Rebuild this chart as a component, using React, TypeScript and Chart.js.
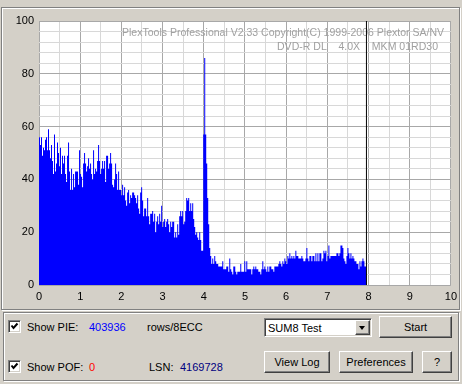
import React, { useEffect, useRef } from 'react';
import { Chart, registerables } from 'chart.js';

Chart.register(...registerables);

// ---- data (PIE rows/8ECC per sample) ----
const pieValues: number[] = [
  56, 53, 56, 49, 52, 51, 55, 56, 51, 59,
  51, 48, 53, 47, 42, 57, 43, 46, 54, 50,
  45, 52, 42, 49, 46, 49, 42, 39, 49, 54,
  43, 36, 44, 36, 42, 37, 43, 43, 43, 38,
  51, 42, 41, 37, 46, 50, 46, 43, 45, 48,
  44, 46, 42, 40, 51, 42, 44, 43, 47, 53,
  47, 42, 44, 47, 44, 47, 39, 49,
  49, 44, 46, 50, 46, 38, 37, 40, 46, 42,
  36, 43, 36, 36, 34, 38, 34, 37, 32, 30,
  35, 36, 31, 34, 33, 35, 35, 34, 33, 31,
  34, 29, 27, 35, 37, 32, 26, 29, 29, 26,
  33, 26, 23, 27, 27, 28, 24, 27, 20, 24,
  26, 23, 27, 24, 30, 22, 24, 25, 22, 24,
  25, 23, 20, 24, 22, 24, 24, 18, 20,
  18, 23, 19, 26, 28, 26, 28, 23, 24, 28,
  33, 32, 33, 28, 31, 28, 31, 25, 22, 19,
  20, 18, 17, 20, 17, 13, 13, 57, 86, 57,
  46, 33, 23, 14, 11, 8, 10, 8, 11, 9,
  8, 8, 7, 7, 7, 7, 9, 6, 6, 6,
  7, 7, 5, 10, 6, 5, 4, 7, 7, 5,
  4, 5, 5, 5, 8, 5, 5, 5, 9, 5,
  9, 6, 6, 6, 6, 4, 6, 7, 6, 7,
  6, 6, 5, 5, 4, 6, 9, 6, 7, 6,
  5, 7, 5, 7, 7, 6, 6, 5, 7, 7,
  7, 7, 8, 9, 8, 7, 9, 8, 10, 9,
  8, 11, 10, 12, 10, 11, 10, 11, 10, 13,
  11, 11, 10, 10, 10, 11, 10, 9, 9, 10,
  14, 10, 9, 11, 11, 9, 11, 11, 9, 12,
  9, 12, 9, 12, 12, 9, 10, 13, 12, 13,
  9, 11, 15, 10, 11, 11, 11, 11, 11, 11,
  12, 12, 11, 12, 15, 15, 14, 10, 9, 8,
  11, 14, 12, 10, 12, 10, 11, 10, 9, 9,
  8, 8, 6, 9, 7, 9, 10, 9, 7, 7,
];

const scanEndGB = 7.95; // position of the current-position marker / end of data
const xMin = 0;
const xMax = 10;
const yMin = 0;
const yMax = 100;
const xLabelStep = 1;
const xGridStep = 0.5;
const yLabelStep = 20;
const yGridStep = 4;

const infoLine1 = 'PlexTools Professional V2.33 Copyright(C) 1999-2006 Plextor SA/NV';
const infoLine2 = 'DVD-R DL    4.0X    MKM 01RD30';

const pieTotal = '403936';
const pieUnit = 'rows/8ECC';
const pofTotal = '0';
const lsnValue = '4169728';
const testModes = ['SUM8 Test'];

const BG = '#d4d0c8';
const FONT = '"Liberation Sans", Arial, sans-serif';

const infoPlugin = {
  id: 'plotInfo',
  beforeDraw(chart: any) {
    const { ctx, chartArea } = chart;
    ctx.save();
    ctx.fillStyle = '#ffffff';
    ctx.fillRect(chartArea.left, chartArea.top, chartArea.right - chartArea.left, chartArea.bottom - chartArea.top);
    ctx.restore();
  },
  beforeDatasetsDraw(chart: any) {
    const { ctx } = chart;
    ctx.save();
    ctx.fillStyle = '#a0a0a0';
    ctx.font = '11.5px ' + FONT;
    ctx.textAlign = 'right';
    ctx.textBaseline = 'alphabetic';
    ctx.fillText(infoLine1, 444, 36, 322);
    ctx.fillText(infoLine2, 438, 50, 161);
    ctx.restore();
  },
};

function PlotCanvas() {
  const ref = useRef<HTMLCanvasElement | null>(null);
  useEffect(() => {
    if (!ref.current) return;
    const step = scanEndGB / pieValues.length;
    const piePoints = pieValues.map((v, i) => ({ x: i * step, y: v }));
    piePoints.push({ x: scanEndGB, y: pieValues[pieValues.length - 1] });
    const chart = new Chart(ref.current, {
      type: 'line',
      data: {
        datasets: [
          {
            label: 'position',
            data: [
              { x: scanEndGB, y: yMin },
              { x: scanEndGB, y: yMax },
            ],
            borderColor: '#000000',
            borderWidth: 1,
            pointRadius: 0,
            fill: false,
            order: 0,
          },
          {
            label: 'PIE',
            data: piePoints,
            stepped: 'before',
            fill: 'origin',
            backgroundColor: '#0000ff',
            borderColor: 'rgba(0,0,0,0)',
            borderWidth: 0,
            pointRadius: 0,
            tension: 0,
            order: 1,
          },
        ],
      },
      options: {
        animation: false,
        responsive: false,
        devicePixelRatio: 1,
        events: [],
        layout: { padding: { left: 0, top: 21, right: 11, bottom: 0 } },
        plugins: { legend: { display: false }, tooltip: { enabled: false } },
        scales: {
          x: {
            type: 'linear',
            min: xMin,
            max: xMax,
            border: { display: false },
            grid: {
              drawTicks: false,
              color: (c: any) => (c.tick && Math.abs(c.tick.value % xLabelStep) < 1e-6 ? '#a8a8a8' : '#d8d8d8'),
            },
            ticks: {
              stepSize: xGridStep,
              autoSkip: false,
              maxRotation: 0,
              padding: 5,
              color: '#000000',
              font: { family: FONT, size: 11 },
              callback: (v: any) => (Math.abs(v % xLabelStep) < 1e-6 ? String(v) : ''),
            },
            afterFit: (s: any) => {
              s.height = 20;
            },
          },
          y: {
            type: 'linear',
            min: yMin,
            max: yMax,
            border: { display: false },
            grid: {
              drawTicks: false,
              color: (c: any) => (c.tick && c.tick.value % yLabelStep === 0 ? '#a8a8a8' : '#d8d8d8'),
            },
            ticks: {
              stepSize: yGridStep,
              autoSkip: false,
              padding: 5,
              color: '#000000',
              font: { family: FONT, size: 11 },
              callback: (v: any) => (v % yLabelStep === 0 ? String(v) : ''),
            },
            afterFit: (s: any) => {
              s.width = 39;
            },
          },
        },
      },
      plugins: [infoPlugin],
    } as any);
    return () => chart.destroy();
  }, []);
  return (
    <canvas
      ref={ref}
      width={462}
      height={305}
      style={{ position: 'absolute', left: 0, top: 0, width: 462, height: 305 }}
    />
  );
}

const etched = (left: number, top: number, width: number, height: number): React.CSSProperties => ({
  position: 'absolute',
  left,
  top,
  width: width - 2,
  height: height - 2,
  border: '1px solid #808080',
  boxShadow: '1px 1px 0 #ffffff, inset 1px 1px 0 #ffffff',
});

function CheckBox({ left, top }: { left: number; top: number }) {
  return (
    <div
      style={{
        position: 'absolute',
        left,
        top,
        width: 11,
        height: 11,
        background: '#ffffff',
        borderStyle: 'solid',
        borderWidth: 1,
        borderColor: '#808080 #ffffff #ffffff #808080',
        boxShadow: 'inset 1px 1px 0 #404040, inset -1px -1px 0 ' + BG,
      }}
    >
      <svg width={11} height={11} style={{ position: 'absolute', left: 0, top: 0 }}>
        <polyline points="2.5,4.5 4.5,7 8.5,2.5" fill="none" stroke="#000" strokeWidth={2} />
      </svg>
    </div>
  );
}

function Button({ left, top, width, height, text }: { left: number; top: number; width: number; height: number; text: string }) {
  return (
    <div
      style={{
        position: 'absolute',
        left,
        top,
        width: width - 2,
        height: height - 2,
        background: BG,
        borderStyle: 'solid',
        borderWidth: 1,
        borderColor: '#ffffff #404040 #404040 #ffffff',
        boxShadow: 'inset -1px -1px 0 #808080',
        display: 'flex',
        alignItems: 'center',
        justifyContent: 'center',
        fontSize: 11,
        lineHeight: '13px',
        color: '#000',
      }}
    >
      {text}
    </div>
  );
}

function Label({ left, top, text, color }: { left: number; top: number; text: string; color?: string }) {
  return (
    <span
      style={{
        position: 'absolute',
        left,
        top,
        fontSize: 11,
        lineHeight: '13px',
        color: color || '#000',
        whiteSpace: 'pre',
      }}
    >
      {text}
    </span>
  );
}

export default function App() {
  useEffect(() => {
    document.body.style.margin = '0';
  }, []);
  return (
    <div
      style={{
        position: 'relative',
        width: 462,
        height: 384,
        background: BG,
        fontFamily: FONT,
        overflow: 'hidden',
      }}
    >
      <div style={etched(1, 7, 459, 303)} />
      <PlotCanvas />
      <div style={etched(3, 312, 456, 69)} />

      <CheckBox left={8} top={320} />
      <Label left={27} top={321} text="Show PIE:" />
      <Label left={89} top={321} text={pieTotal} color="#0000ff" />
      <Label left={147} top={321} text={pieUnit} />

      <CheckBox left={8} top={360} />
      <Label left={27} top={361} text="Show POF:" />
      <Label left={89} top={361} text={pofTotal} color="#ff0000" />
      <Label left={149} top={361} text="LSN:" />
      <Label left={180} top={361} text={lsnValue} color="#000080" />

      <div
        style={{
          position: 'absolute',
          left: 264,
          top: 318,
          width: 106,
          height: 17,
          background: '#ffffff',
          borderStyle: 'solid',
          borderWidth: 1,
          borderColor: '#808080 #ffffff #ffffff #808080',
          boxShadow: 'inset 1px 1px 0 #404040, inset -1px -1px 0 ' + BG,
        }}
      >
        <span style={{ position: 'absolute', left: 3, top: 3, fontSize: 11, lineHeight: '13px' }}>{testModes[0]}</span>
        <div
          style={{
            position: 'absolute',
            right: 1,
            top: 1,
            width: 13,
            height: 13,
            background: BG,
            borderStyle: 'solid',
            borderWidth: 1,
            borderColor: '#ffffff #404040 #404040 #ffffff',
            boxShadow: 'inset -1px -1px 0 #808080',
          }}
        >
          <div
            style={{
              position: 'absolute',
              left: 3,
              top: 5,
              width: 0,
              height: 0,
              borderLeft: '3.5px solid transparent',
              borderRight: '3.5px solid transparent',
              borderTop: '4px solid #000',
            }}
          />
        </div>
      </div>

      <Button left={379} top={316} width={73} height={22} text="Start" />
      <Button left={264} top={351} width={66} height={22} text="View Log" />
      <Button left={339} top={351} width={74} height={22} text="Preferences" />
      <Button left={422} top={351} width={30} height={22} text="?" />
    </div>
  );
}
